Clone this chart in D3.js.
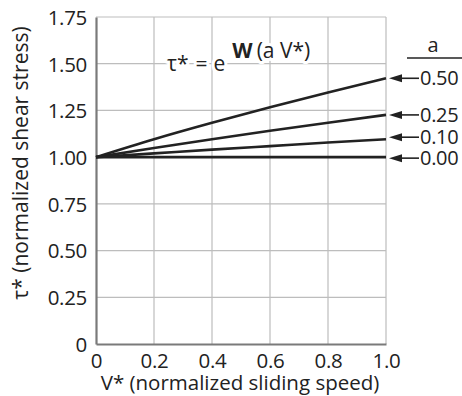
<!DOCTYPE html>
<html>
<head>
<meta charset="utf-8">
<script src="https://cdn.jsdelivr.net/npm/d3@7"></script>
<style>
  body { margin: 0; background: #fff; }
  text { font-family: "Open Sans", "Noto Sans", sans-serif; fill: #222; }
</style>
</head>
<body>
<div id="chart"></div>
<script>
// values
const vStar = [0, 0.2, 0.4, 0.6, 0.8, 1.0];
const tau050 = [1.000, 1.096, 1.184, 1.267, 1.346, 1.422];
const tau025 = [1.000, 1.049, 1.096, 1.141, 1.184, 1.226];
const tau010 = [1.000, 1.020, 1.040, 1.059, 1.078, 1.096];
const tau000 = [1.000, 1.000, 1.000, 1.000, 1.000, 1.000];
const seriesNames = ["0.50", "0.25", "0.10", "0.00"];
const seriesValues = [tau050, tau025, tau010, tau000];
const labelOffsets = [0, 0, -2, 1]; // small nudges so labels don't collide
const xTicks = [0, 0.2, 0.4, 0.6, 0.8, 1.0];
const yTicks = [0, 0.25, 0.5, 0.75, 1.0, 1.25, 1.5, 1.75];

const W = 462, H = 396;
const margin = {top: 17, right: 76, bottom: 52, left: 96};
const width = W - margin.left - margin.right;
const height = H - margin.top - margin.bottom;

const svg = d3.select("#chart").append("svg")
  .attr("width", W).attr("height", H);
const g = svg.append("g")
  .attr("transform", "translate(" + margin.left + "," + margin.top + ")");

const x = d3.scaleLinear().domain([0, 1]).range([0, width]);
const y = d3.scaleLinear().domain([0, 1.75]).range([height, 0]);

// grid
g.append("g").selectAll("line").data(xTicks.slice(1)).enter().append("line")
  .attr("x1", d => x(d)).attr("x2", d => x(d))
  .attr("y1", 0).attr("y2", height)
  .style("stroke", "#bdbdbd").style("stroke-width", 1.2);
g.append("g").selectAll("line").data(yTicks.slice(1)).enter().append("line")
  .attr("x1", 0).attr("x2", width)
  .attr("y1", d => y(d)).attr("y2", d => y(d))
  .style("stroke", "#bdbdbd").style("stroke-width", 1.2);

// axes
const xAxis = g.append("g")
  .attr("transform", "translate(0," + height + ")")
  .call(d3.axisBottom(x).tickValues(xTicks).tickSize(0).tickPadding(9)
    .tickFormat(d => d === 0 ? "0" : d3.format(".1f")(d)));
const yAxis = g.append("g")
  .call(d3.axisLeft(y).tickValues(yTicks).tickSize(0).tickPadding(9)
    .tickFormat(d => d === 0 ? "0" : d3.format(".2f")(d)));
[xAxis, yAxis].forEach(a => {
  a.select(".domain").style("stroke", "#7a7a7a").style("stroke-width", 2.2);
  a.selectAll("text").style("font-size", "20.5px").style("fill", "#222")
    .style("letter-spacing", "-0.3px")
    .style("font-family", "'Open Sans', sans-serif");
});
xAxis.selectAll("text").attr("dy", "0.71em");
yAxis.selectAll("text").attr("dy", "0.36em");

// formula, with white halo over grid
const formula = g.append("text")
  .attr("x", 71).attr("y", 54)
  .style("font-size", "21px")
  .style("stroke", "#fff").style("stroke-width", 6)
  .style("paint-order", "stroke").style("stroke-linejoin", "round");
formula.append("tspan").text("τ*");
formula.append("tspan").attr("dx", 7).text("=");
formula.append("tspan").attr("dx", 6).text("e");
formula.append("tspan").attr("dx", 7).attr("dy", -13)
  .style("font-weight", "bold").text("W");
formula.append("tspan").attr("dx", 4).text("(a V*)");

// curves
const line = d3.line()
  .x((d, i) => x(vStar[i]))
  .y(d => y(d))
  .curve(d3.curveMonotoneX);
g.append("g").selectAll("path").data(seriesValues).enter().append("path")
  .attr("d", d => line(d))
  .style("fill", "none")
  .style("stroke", "#222")
  .style("stroke-width", 2.6);

// legend: arrows + labels
const lx = width;
seriesValues.forEach((vals, i) => {
  const yy = y(vals[vals.length - 1]) + labelOffsets[i];
  g.append("line")
    .attr("x1", lx + 14).attr("x2", lx + 33)
    .attr("y1", yy).attr("y2", yy)
    .style("stroke", "#222").style("stroke-width", 1.6);
  g.append("path")
    .attr("d", d3.line()([[lx + 3, yy], [lx + 16, yy - 4], [lx + 16, yy + 4]]) + "Z")
    .style("fill", "#222");
  g.append("text")
    .attr("x", lx + 34).attr("y", yy).attr("dy", "0.36em")
    .style("font-size", "20px")
    .style("letter-spacing", "-0.3px")
    .text(seriesNames[i]);
});
g.append("text")
  .attr("x", lx + 47).attr("y", 35)
  .attr("text-anchor", "middle")
  .style("font-size", "20px")
  .text("a");
g.append("line")
  .attr("x1", lx + 21).attr("x2", lx + 76)
  .attr("y1", 41).attr("y2", 41)
  .style("stroke", "#222").style("stroke-width", 1.4);

// axis titles
svg.append("text")
  .attr("x", 240).attr("y", 390)
  .attr("text-anchor", "middle")
  .style("font-size", "20.5px")
  .text("V* (normalized sliding speed)");
svg.append("text")
  .attr("transform", "translate(28,163) rotate(-90)")
  .attr("text-anchor", "middle")
  .style("font-size", "21px")
  .text("τ* (normalized shear stress)");
</script>
</body>
</html>
